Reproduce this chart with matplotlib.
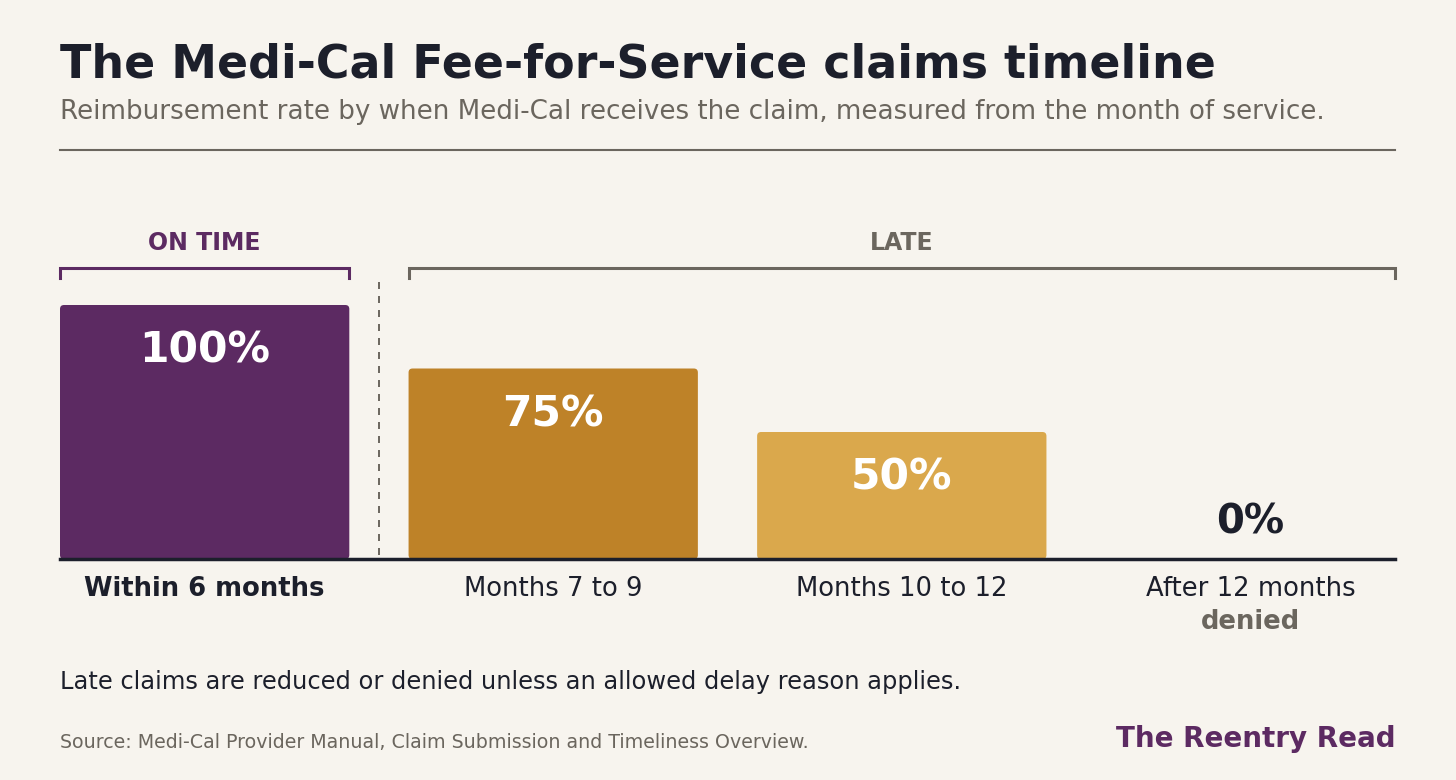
import matplotlib.pyplot as plt
from matplotlib.patches import FancyBboxPatch

plt.rcParams['font.family'] = ['DejaVu Sans']

# data
categories = ['Within 6 months', 'Months 7 to 9', 'Months 10 to 12', 'After 12 months']
rates = [100, 75, 50, 0]
value_labels = ['100%', '75%', '50%', '0%']
bar_colors = ['#5C2A62', '#BE8228', '#DAA84C', '#DAA84C']

BG = '#F7F4EE'
INK = '#1C1F2B'
GREY = '#6B665E'
PURPLE = '#5C2A62'

W, H = 1456, 780


def fy(y):
    # pixel y from top -> figure fraction
    return 1 - y / H


def fx(x):
    return x / W


fig = plt.figure(figsize=(W / 100, H / 100), dpi=100)
fig.patch.set_facecolor(BG)

ax = fig.add_axes([fx(60), fy(559), fx(1335), (559 - 180) / H])
ax.set_facecolor('none')
x = list(range(len(categories)))
bars = ax.bar(x, rates, width=0.83, color=bar_colors, zorder=2)
ax.set_xlim(-0.415, 3.415)
ax.set_ylim(0, (559 - 180) / 254 * 100)

# rounded corners (~4 px)
px_x = 1335 / (3.415 + 0.415)
px_y = 254 / 100
r = 4 / px_x
for b in bars:
    if b.get_height() <= 0:
        b.set_visible(False)
        continue
    rb = FancyBboxPatch((b.get_x(), b.get_y()), b.get_width(), b.get_height(),
                        boxstyle=f'round,pad=0,rounding_size={r}',
                        mutation_aspect=px_x / px_y,
                        fc=b.get_facecolor(), ec='none', zorder=2)
    ax.add_patch(rb)
    b.set_visible(False)

for s in ax.spines.values():
    s.set_visible(False)
ax.set_xticks([])
ax.set_yticks([])
ax.axhline(0, color=INK, lw=2.5, zorder=3, clip_on=False)

# value labels
for i, (v, lab) in enumerate(zip(rates, value_labels)):
    if v > 0:
        ax.text(i, v - 18, lab, ha='center', va='center', color='white',
                fontsize=30.5, fontweight='bold', zorder=4)
    else:
        ax.text(i, 14.5, lab, ha='center', va='center', color=INK,
                fontsize=29, fontweight='bold', zorder=4)

# brackets
def bracket(x0, x1, label, color):
    ax.plot([x0, x0, x1, x1], [110.6, 114.6, 114.6, 110.6], color=color,
            lw=2.2, clip_on=False, solid_joinstyle='miter')
    ax.text((x0 + x1) / 2, 124.4, label, ha='center', va='center',
            color=color, fontsize=17, fontweight='bold')


bracket(-0.415, 0.415, 'ON TIME', PURPLE)
bracket(0.585, 3.415, 'LATE', GREY)
ax.plot([0.5, 0.5], [1.6, 109.3], color=GREY, lw=1.4, ls=(0, (3.6, 3.6)))

# category labels
for i, c in enumerate(categories):
    ax.annotate(c, (i, 0), xytext=(0, -30), textcoords='offset pixels',
                ha='center', va='center', fontsize=18.6, color=INK,
                fontweight='bold' if i == 0 else 'normal')
ax.annotate('denied', (3, 0), xytext=(0, -63), textcoords='offset pixels',
            ha='center', va='center', fontsize=18.6, color=GREY, fontweight='bold')

# header
fig.text(fx(60), fy(77), 'The Medi-Cal Fee-for-Service claims timeline',
         ha='left', va='baseline', fontsize=33, fontweight='bold', color=INK)
fig.text(fx(60), fy(119),
         'Reimbursement rate by when Medi-Cal receives the claim, measured from the month of service.',
         ha='left', va='baseline', fontsize=18.8, color=GREY)
fig.add_artist(plt.Line2D([fx(60), fx(1395)], [fy(150), fy(150)], color=GREY, lw=1.5))

# footer
fig.text(fx(60), fy(682), 'Late claims are reduced or denied unless an allowed delay reason applies.',
         ha='left', va='center', fontsize=17.4, color=INK)
fig.text(fx(60), fy(742), 'Source: Medi-Cal Provider Manual, Claim Submission and Timeliness Overview.',
         ha='left', va='center', fontsize=13.7, color=GREY)
fig.text(fx(1396), fy(739), 'The Reentry Read', ha='right', va='center',
         fontsize=20, fontweight='bold', color=PURPLE)

fig.savefig('out.png', dpi=100, facecolor=BG)
